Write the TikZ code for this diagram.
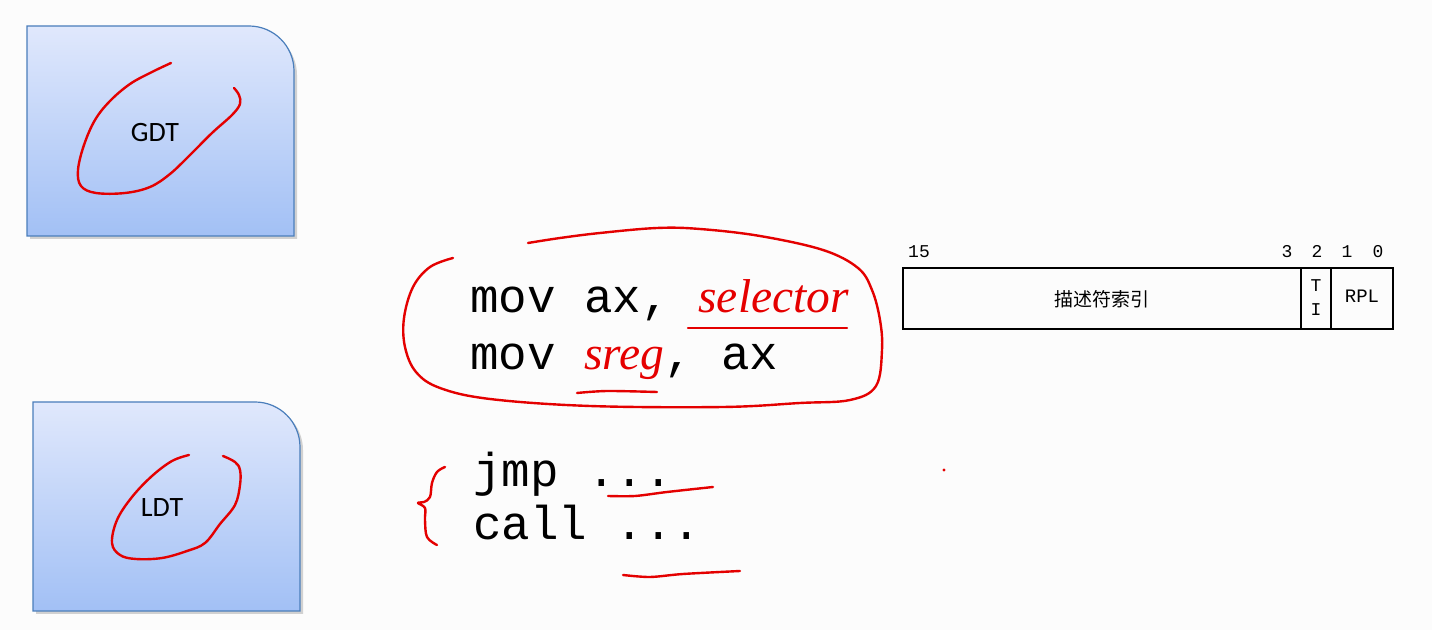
\documentclass[tikz,border=0pt]{standalone}
\usepackage{fontspec}
\setmainfont{Liberation Serif}
\newfontfamily\monof{Liberation Mono}
\newfontfamily\labf{Carlito}
\newfontfamily\cjk{Noto Sans CJK SC}
\begin{document}
\begin{tikzpicture}[x=0.5pt,y=-0.5pt,
  tbox/.style={draw={rgb,255:red,74;green,126;blue,187}, line width=0.6pt,
    top color={rgb,255:red,224;green,232;blue,252}, bottom color={rgb,255:red,162;green,192;blue,245}},
  shadowbox/.style={fill=black!18},
  pen/.style={draw={rgb,255:red,228;green,0;blue,0}, line width=1.2pt, line cap=round, line join=round},
  code/.style={inner sep=0pt, anchor=base west, font=\monof\fontsize{23.75}{28}\selectfont},
  bitlab/.style={inner sep=0pt, anchor=base, font=\monof\fontsize{9}{10}\selectfont},
  fieldbox/.style={draw=black, line width=1pt}
]
\useasboundingbox (0,0) rectangle (1432,630);
\fill[black!1] (0,0) rectangle (1432,630);

% GDT box
\fill[shadowbox] (30,30) -- (252,30) arc[start angle=90,end angle=0,radius=22.5pt] -- (297,239) -- (30,239) -- cycle;
\path[tbox] (27,236) -- (27,26) -- (249,26) arc[start angle=90,end angle=0,radius=22.5pt] -- (294,236) -- cycle;
\node[font=\labf\fontsize{14}{16}\selectfont] (gdt) at (155,133) {GDT};

% LDT box
\fill[shadowbox] (36,405) -- (258,405) arc[start angle=90,end angle=0,radius=22.5pt] -- (303,614) -- (36,614) -- cycle;
\path[tbox] (33,611) -- (33,402) -- (255,402) arc[start angle=90,end angle=0,radius=22.5pt] -- (300,611) -- cycle;
\node[font=\labf\fontsize{14}{16}\selectfont] (ldt) at (162,508) {LDT};

% code lines
\node[code] (l1) at (470,313) {mov ax, \textcolor[rgb]{0.9,0,0}{\rmfamily\itshape selector}};
\node[code] (l2) at (470,370) {mov \textcolor[rgb]{0.9,0,0}{\rmfamily\itshape sreg}, ax};
\node[code] (l3) at (473,487) {jmp ...};
\node[code] (l4) at (473,540) {call ...};

% selector field
\draw[fieldbox] (903,268) rectangle (1393,329);
\draw[fieldbox] (1301,268) -- (1301,329);
\draw[fieldbox] (1331,268) -- (1331,329);
\node[inner sep=0pt, font=\cjk\fontsize{9.5}{11}\selectfont] (idx) at (1102,299) {描述符索引};
\node[bitlab] (t) at (1316,292) {T};
\node[bitlab] (i) at (1316,316) {I};
\node[bitlab, font=\monof\fontsize{9.5}{11}\selectfont] (rpl) at (1362,303) {RPL};
\node[bitlab] (b15) at (919,258) {15};
\node[bitlab] (b3) at (1287,258) {3};
\node[bitlab] (b2) at (1317,258) {2};
\node[bitlab] (b1) at (1347,258) {1};
\node[bitlab] (b0) at (1378,258) {0};

% red pen strokes
\draw[pen] plot[smooth, tension=0.6] coordinates {(171,63) (152,72) (130,84) (110,101) (95,120) (84,145) (78,170) (81,186) (96,193) (125,193) (150,187) (170,174) (190,155) (212,133) (232,115) (240,104) (239,95) (234,88)};
\draw[pen] plot[smooth, tension=0.6] coordinates {(189,455) (172,461) (152,476) (132,497) (117,520) (112,543) (120,555) (136,559) (162,558) (187,551) (205,543) (220,524) (235,505) (240,485) (240,470) (235,462) (223,456)};
\draw[pen] plot[smooth, tension=0.6] coordinates {(453,258) (430,267) (413,287) (404,318) (405,347) (416,372) (440,388) (490,399) (590,406) (723,407) (800,403) (850,400) (876,386) (882,350) (880,320) (872,290) (858,268) (823,250) (760,236) (700,229) (657,228) (600,233) (560,238) (528,243)};
\draw[pen] plot[smooth] coordinates {(688,328) (760,328) (847,328)};
\draw[pen] plot[smooth] coordinates {(577,393) (607,391) (657,392)};
\draw[pen] plot[smooth, tension=0.6] coordinates {(445,467) (437,472) (432,483) (430,497) (424,502) (418,503) (425,508) (425,520) (427,537) (437,545)};
\draw[pen] plot[smooth] coordinates {(608,496) (635,496) (667,492) (713,487)};
\draw[pen] plot[smooth] coordinates {(623,575) (650,577) (683,574) (740,571)};
\fill[red!90!black] (944,470) circle (0.8pt);
\end{tikzpicture}
\end{document}
